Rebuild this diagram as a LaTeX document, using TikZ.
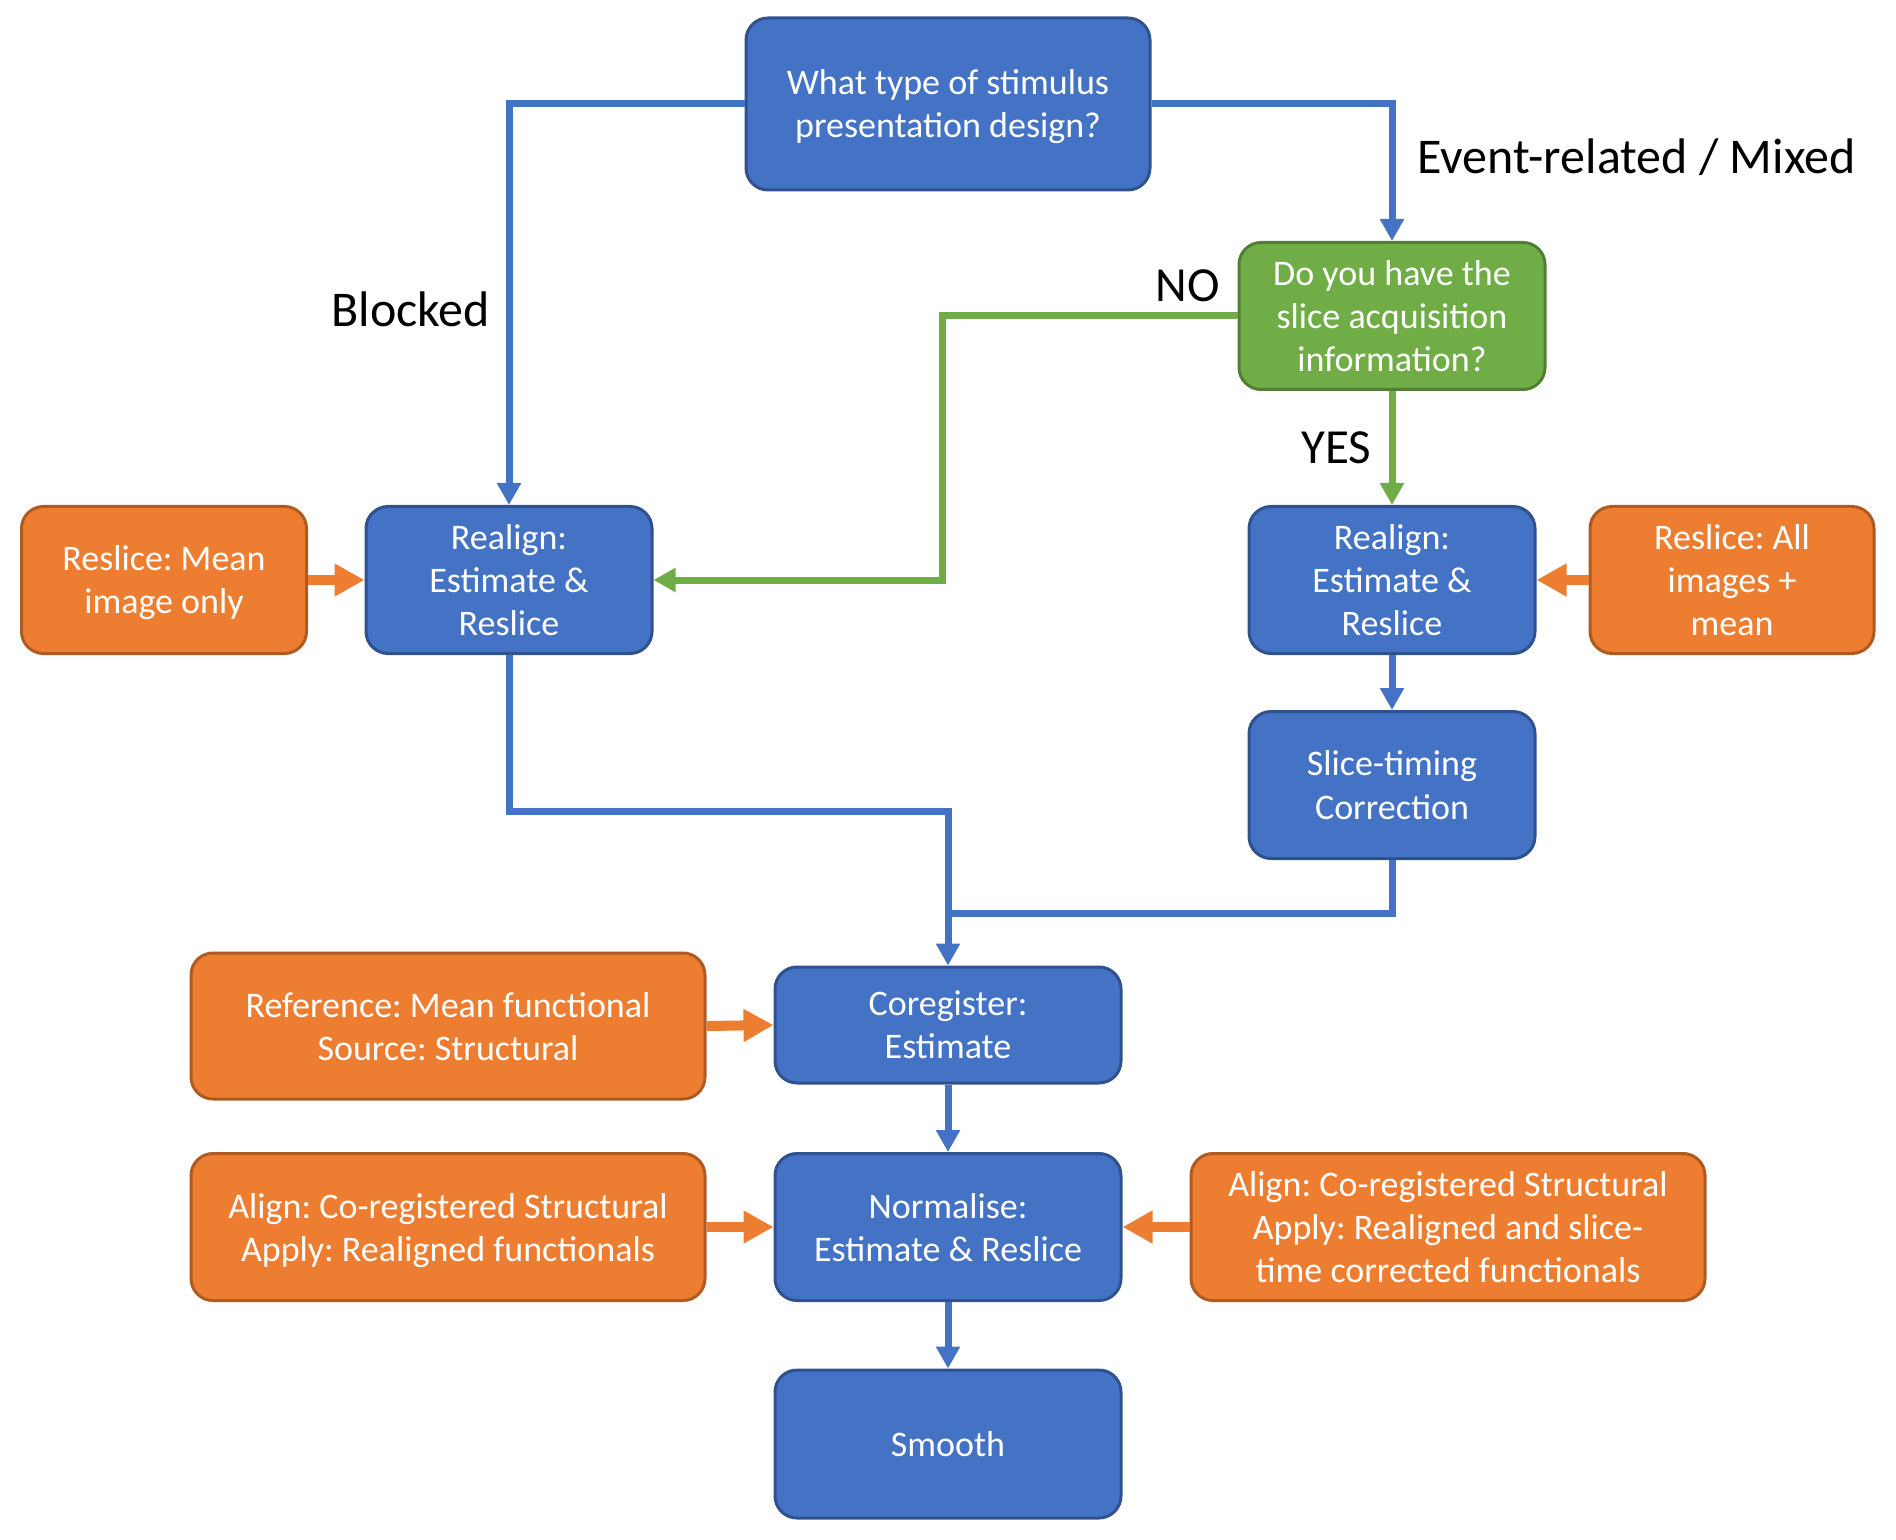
\documentclass[tikz,border=0pt]{standalone}
\usepackage{fontspec}
\setmainfont{Carlito}
\frenchspacing
\usetikzlibrary{arrows.meta}
\definecolor{bfill}{HTML}{4472C4}
\definecolor{bdraw}{HTML}{2F528F}
\definecolor{gfill}{HTML}{70AD47}
\definecolor{gdraw}{HTML}{507E32}
\definecolor{ofill}{HTML}{ED7D31}
\definecolor{odraw}{HTML}{AE5A21}
\tikzset{
  base/.style={rounded corners=11pt,line width=1.5pt,text=white,align=center,inner sep=0pt,text depth=0pt,font=\fontsize{18}{21.5}\selectfont},
  bbox/.style={base,fill=bfill,draw=bdraw},
  gbox/.style={base,fill=gfill,draw=gdraw},
  obox/.style={base,fill=ofill,draw=odraw},
  bline/.style={draw=bfill,line width=3.5pt,-{Triangle[width=11.5pt,length=11pt]}},
  bplain/.style={draw=bfill,line width=3.5pt},
  gline/.style={draw=gfill,line width=3.5pt,-{Triangle[width=11.5pt,length=11pt]}},
  oline/.style={draw=ofill,line width=5pt,-{Triangle[width=15.5pt,length=15pt]}},
  lbl/.style={anchor=base west,inner sep=0pt,font=\fontsize{25}{29}\selectfont},
  lbls/.style={anchor=base west,inner sep=0pt,font=\fontsize{24.5}{28}\selectfont}
}
\begin{document}
\begin{tikzpicture}[x=0.5pt,y=-0.5pt]
\useasboundingbox (0,0) rectangle (1896,1540);

\node[bbox,minimum width=202pt,minimum height=86pt] (q1) at (948,104) {What type of stimulus\\presentation design?};
\node[gbox,minimum width=153pt,minimum height=73.5pt] (q2) at (1392,316) {Do you have the\\slice acquisition\\information?};
\node[bbox,minimum width=143pt,minimum height=73.5pt] (rl) at (509,580) {Realign:\\Estimate \&\\Reslice};
\node[bbox,minimum width=143pt,minimum height=73.5pt] (rr) at (1392,580) {Realign:\\Estimate \&\\Reslice};
\node[obox,minimum width=142.5pt,minimum height=73.5pt] (ol) at (164,580) {Reslice: Mean\\image only};
\node[obox,minimum width=142pt,minimum height=73.5pt] (or) at (1732,580) {Reslice: All\\images +\\mean};
\node[bbox,minimum width=143pt,minimum height=73.5pt] (st) at (1392,785) {Slice-timing\\Correction};
\node[bbox,minimum width=173pt,minimum height=58pt] (co) at (948,1025) {Coregister:\\Estimate};
\node[obox,minimum width=257pt,minimum height=73pt] (oref) at (448,1026) {Reference: Mean functional\\Source: Structural};
\node[bbox,minimum width=173pt,minimum height=73.5pt] (nm) at (948,1227) {Normalise:\\Estimate \& Reslice};
\node[obox,minimum width=257pt,minimum height=73.5pt] (oal) at (448,1227) {Align: Co-registered Structural\\Apply: Realigned functionals};
\node[obox,minimum width=257pt,minimum height=73.5pt] (oar) at (1448,1227) {Align: Co-registered Structural\\Apply: Realigned and slice-\\time corrected functionals};
\node[bbox,minimum width=173pt,minimum height=74pt] (sm) at (948,1444) {Smooth};

\node[lbl] (lev) at (1417,174) {Event-related / Mixed};
\node[lbl] (lbk) at (331,327) {Blocked};
\node[lbls] (lno) at (1155,302) {NO};
\node[lbls] (lyes) at (1301,464) {YES};

\coordinate (j) at (948,913);

\draw[bline] (q1.west) -| (rl.north);
\draw[bline] (q1.east) -| (q2.north);
\draw[gline] (q2.west) -- ++(-295,0) |- (rl.east);
\draw[gline] (q2.south) -- (rr.north);
\draw[bline] (rr.south) -- (st.north);
\draw[bline] (rl.south) -- ++(0,156) -| (co.north);
\draw[bplain] (st.south) |- (j);
\draw[bline] (co.south) -- (nm.north);
\draw[bline] (nm.south) -- (sm.north);

\draw[oline] (ol.east) -- (rl.west);
\draw[oline] (or.west) -- (rr.east);
\draw[oline] (oref.east) -- (co.west);
\draw[oline] (oal.east) -- (nm.west);
\draw[oline] (oar.west) -- (nm.east);
\end{tikzpicture}
\end{document}
